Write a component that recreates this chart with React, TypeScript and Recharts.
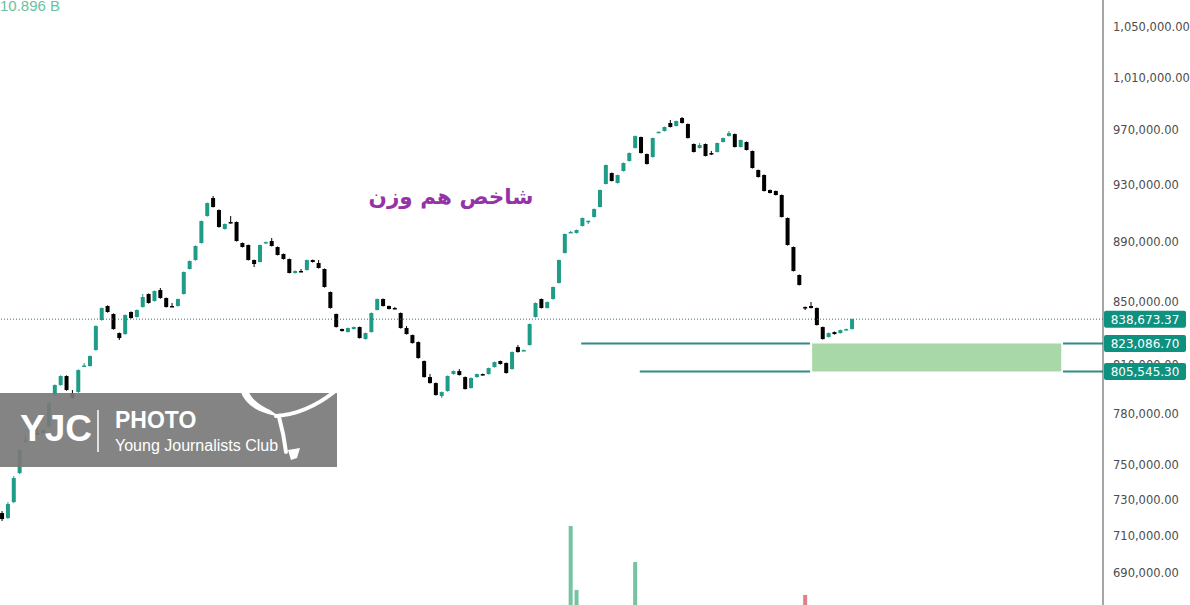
import React from 'react';
import {
  ComposedChart,
  Bar,
  Cell,
  XAxis,
  YAxis,
  ReferenceLine,
  ReferenceArea,
} from 'recharts';

// daily candles: [open, high, low, close]
const CANDLES: [number, number, number, number][] = [
  [722490, 723600, 718050, 719150],
  [719700, 728600, 719150, 727500],
  [728600, 743350, 728000, 742200],
  [745050, 758900, 744500, 758360],
  [763050, 767160, 762500, 764220],
  [764220, 766500, 763700, 766000],
  [768350, 771900, 767500, 767800],
  [768350, 770500, 768000, 770120],
  [771900, 786800, 771500, 786250],
  [791130, 797600, 790700, 797230],
  [797230, 803200, 796800, 802770],
  [802770, 803200, 793800, 794170],
  [792330, 794170, 789000, 789300],
  [792940, 806900, 792500, 806480],
  [808970, 810850, 808500, 809300],
  [808970, 815600, 808600, 815220],
  [818990, 834700, 818600, 834250],
  [838120, 846300, 837700, 845890],
  [847200, 847600, 842900, 843300],
  [842000, 842400, 831900, 832320],
  [829760, 830100, 825310, 826580],
  [829120, 841800, 828700, 841350],
  [843300, 843700, 839000, 839410],
  [840060, 845000, 839700, 844590],
  [846540, 855060, 846200, 853080],
  [855060, 855400, 848800, 849150],
  [850460, 857400, 850100, 857030],
  [857690, 859020, 852000, 852420],
  [852420, 852800, 846200, 846540],
  [847200, 849150, 846600, 846900],
  [847200, 852100, 846800, 851770],
  [855060, 870000, 854700, 869650],
  [871660, 877400, 871300, 877040],
  [877710, 887600, 877300, 887220],
  [889250, 904800, 888900, 904430],
  [907920, 917400, 907500, 917030],
  [920570, 921990, 913900, 914230],
  [912120, 912500, 899900, 900270],
  [898890, 902700, 898500, 902360],
  [903740, 907920, 902700, 903050],
  [903740, 904100, 890300, 890620],
  [889250, 889600, 886200, 886530],
  [887900, 888200, 877400, 877710],
  [877710, 878000, 873000, 875020],
  [876360, 888200, 876000, 887900],
  [889250, 890300, 888900, 889930],
  [890620, 892680, 886900, 887220],
  [886530, 886900, 880800, 881100],
  [881780, 882100, 878000, 878380],
  [878380, 878700, 868700, 868990],
  [868990, 870700, 868600, 870320],
  [870320, 871660, 869700, 870000],
  [870990, 878000, 870600, 877710],
  [877710, 878000, 876000, 876360],
  [875690, 877710, 872000, 872330],
  [871660, 872000, 859300, 859680],
  [856370, 856700, 845500, 845890],
  [842000, 842300, 833300, 833610],
  [832320, 832600, 830700, 831040],
  [830400, 833300, 830100, 832970],
  [832320, 833900, 832000, 833610],
  [833610, 833900, 826300, 826580],
  [825950, 830100, 825600, 829760],
  [830400, 843000, 830100, 842650],
  [844590, 852100, 844300, 851770],
  [851770, 852100, 846900, 847200],
  [847200, 847500, 845000, 845240],
  [845890, 846540, 845240, 845600],
  [842650, 843000, 832600, 832970],
  [832970, 834250, 828800, 829120],
  [828480, 828800, 823100, 823410],
  [824040, 824400, 813600, 813960],
  [812090, 812400, 801800, 802150],
  [802150, 804010, 798100, 798460],
  [798460, 798800, 790800, 791130],
  [790520, 793300, 789300, 792940],
  [793560, 803100, 793200, 802770],
  [804010, 806200, 803700, 805860],
  [805860, 807100, 803100, 803390],
  [802150, 802500, 794500, 794780],
  [795400, 801900, 795100, 801540],
  [802150, 804300, 801800, 804010],
  [804010, 804300, 803100, 803390],
  [804010, 808000, 803700, 807720],
  [808350, 811800, 808000, 811460],
  [812090, 812400, 809900, 810220],
  [810850, 811200, 804300, 804630],
  [807100, 818100, 806800, 817730],
  [820880, 822140, 817400, 817730],
  [818670, 819300, 818300, 818990],
  [822140, 835900, 821800, 835540],
  [840060, 849500, 839700, 849150],
  [851770, 852100, 845600, 845890],
  [845890, 850100, 845600, 849800],
  [851770, 860000, 851400, 859680],
  [862330, 878000, 862000, 877710],
  [882460, 895800, 882100, 895450],
  [896600, 897500, 896130, 896900],
  [896130, 898500, 895800, 898200],
  [900970, 906900, 900600, 906530],
  [904430, 904700, 902360, 904600],
  [907220, 913200, 906900, 912820],
  [914230, 926600, 913900, 926270],
  [930560, 944600, 930200, 944250],
  [938440, 938800, 932400, 932700],
  [931270, 937300, 930900, 936990],
  [939890, 946100, 939500, 945710],
  [947160, 953400, 946800, 953000],
  [956680, 965900, 956300, 965520],
  [964780, 965100, 952600, 953000],
  [952270, 952600, 944600, 944980],
  [950080, 964400, 949700, 964050],
  [968530, 969000, 968200, 968700],
  [969280, 972600, 968900, 972260],
  [975250, 977500, 971900, 972260],
  [973010, 977100, 972700, 976750],
  [979010, 979770, 974900, 975260],
  [974510, 974900, 963700, 964050],
  [959640, 960000, 953400, 953750],
  [956680, 960370, 956300, 958900],
  [959640, 960000, 950500, 950810],
  [953000, 954500, 951500, 952800],
  [953750, 960700, 953400, 960370],
  [961110, 964400, 960800, 964050],
  [965520, 969280, 965200, 967740],
  [967000, 967400, 957100, 957420],
  [957420, 962900, 957100, 962590],
  [961110, 961500, 954900, 955210],
  [954480, 954800, 941700, 942070],
  [940620, 941000, 935200, 935580],
  [937020, 937400, 925200, 925560],
  [926270, 926600, 923800, 924140],
  [925560, 925900, 922400, 922720],
  [922720, 923100, 906900, 907220],
  [906530, 906900, 887500, 887900],
  [886530, 886900, 870000, 870320],
  [867650, 868000, 860700, 861000],
  [846540, 846900, 844590, 846300],
  [847200, 849800, 845600, 845890],
  [845890, 846200, 834600, 834900],
  [833610, 833900, 825600, 825950],
  [827220, 830100, 826900, 829760],
  [830400, 830700, 828800, 829120],
  [829760, 832000, 829400, 831680],
  [831680, 832600, 831400, 832320],
  [832320, 839000, 832000, 838673.37],
];

// volume (billions) - only the bars that rise into view, [candle index, volume]
const VOLUME: [number, number][] = [
  [97, 300],
  [98, 96],
  [108, 185],
  [137, 80],
  [145, 10.896],
];

const PRICE_TICKS = [690000, 710000, 730000, 750000, 780000, 810000, 850000, 890000, 930000, 970000, 1010000, 1050000];
const LAST_PRICE = 838673.37;
const ZONE_TOP = 823086.7;
const ZONE_BOTTOM = 805545.3;
const BADGE_LEVELS = [LAST_PRICE, ZONE_TOP, ZONE_BOTTOM];

// x ranges (in candle index units) of the drawn levels / zone
const TOP_LINE_FROM = 98.8;
const LOW_LINE_FROM = 108.8;
const ZONE_FROM = 138.2;
const ZONE_TO = 180.7;
const LINE_GAP_L = 137.85;
const LINE_GAP_R = 181.0;

const X_MIN = -0.34;
const X_MAX = 187.82;
const PRICE_DOMAIN = [673150, 1072040];
const VOL_DOMAIN = [47.9, 1978.7];

const UP = '#1f9c88';
const DOWN = '#000000';
const LEVEL = '#2f8c86';
const BADGE = '#0f9180';
const AXIS_FONT = "'DejaVu Sans', Verdana, sans-serif";

const fmt = (v: number) =>
  v.toLocaleString('en-US', { minimumFractionDigits: 2, maximumFractionDigits: 2 });

const volMap = new Map(VOLUME);
const data = CANDLES.map(([open, high, low, close], i) => ({
  i,
  open,
  high,
  low,
  close,
  vol: volMap.get(i),
}));

const Candle = (props: any) => {
  const { x, y, width, height, payload } = props;
  if (x == null || y == null) return null;
  const top = height >= 0 ? y : y + height;
  const h = Math.abs(height);
  const { open, high, low, close } = payload;
  const lh = Math.log(high);
  const span = lh - Math.log(low) || 1;
  const py = (p: number) => top + ((lh - Math.log(p)) / span) * h;
  const color = close >= open ? UP : DOWN;
  const bTop = py(Math.max(open, close));
  const bBot = py(Math.min(open, close));
  const cx = x + width / 2;
  return (
    <g>
      <line x1={cx} x2={cx} y1={top} y2={top + h} stroke={color} strokeWidth={1} />
      <rect x={x} y={bTop} width={width} height={Math.max(1.5, bBot - bTop)} fill={color} />
    </g>
  );
};

const PriceTick = (props: any) => {
  const { x, y, payload } = props;
  return (
    <text x={x} y={y} dy={4.2} fill="#4d4d4d" fontSize={11.5} fontFamily={AXIS_FONT} textAnchor="start">
      {fmt(payload.value)}
    </text>
  );
};

const badge = (value: number) => (props: any) => {
  const vb = props.viewBox || {};
  const bx = vb.x + vb.width + 1;
  const by = vb.y;
  return (
    <g>
      <rect x={bx} y={by - 8.5} width={82} height={17} rx={2} fill={BADGE} />
      <text x={bx + 41} y={by + 4.5} fill="#ffffff" fontSize={12} textAnchor="middle" fontFamily={AXIS_FONT}>
        {fmt(value)}
      </text>
    </g>
  );
};

export default function App() {
  const xAxis = <XAxis type="number" dataKey="i" domain={[X_MIN, X_MAX]} hide allowDataOverflow />;
  return (
    <div style={{ position: 'absolute', left: 0, top: 0, width: 1190, height: 605, overflow: 'hidden', background: '#ffffff' }}>
      <ComposedChart width={1190} height={605} data={data} margin={{ top: 0, right: 0, bottom: 0, left: 0 }}>
        {xAxis}
        <XAxis xAxisId="v" type="number" dataKey="i" domain={[X_MIN, X_MAX]} hide allowDataOverflow />
        <YAxis
          orientation="right"
          width={87}
          scale="log"
          type="number"
          domain={PRICE_DOMAIN}
          allowDataOverflow
          ticks={PRICE_TICKS}
          tick={<PriceTick />}
          tickLine={false}
          tickSize={0}
          tickMargin={10}
          axisLine={{ stroke: '#4d4d4d' }}
          interval={0}
        />
        <YAxis yAxisId="vol" hide type="number" domain={VOL_DOMAIN} allowDataOverflow />
        <ReferenceArea x1={ZONE_FROM} x2={ZONE_TO} y1={ZONE_BOTTOM} y2={ZONE_TOP} fill="#a8d8a8" fillOpacity={1} stroke="none" ifOverflow="visible" />
        <ReferenceLine segment={[{ x: TOP_LINE_FROM, y: ZONE_TOP }, { x: LINE_GAP_L, y: ZONE_TOP }]} stroke={LEVEL} strokeWidth={2} />
        <ReferenceLine segment={[{ x: LINE_GAP_R, y: ZONE_TOP }, { x: X_MAX, y: ZONE_TOP }]} stroke={LEVEL} strokeWidth={2} />
        <ReferenceLine segment={[{ x: LOW_LINE_FROM, y: ZONE_BOTTOM }, { x: LINE_GAP_L, y: ZONE_BOTTOM }]} stroke={LEVEL} strokeWidth={2} />
        <ReferenceLine segment={[{ x: LINE_GAP_R, y: ZONE_BOTTOM }, { x: X_MAX, y: ZONE_BOTTOM }]} stroke={LEVEL} strokeWidth={2} />
        <ReferenceLine y={LAST_PRICE} stroke="#3d6e6b" strokeDasharray="1 2" strokeWidth={1} />
        <Bar xAxisId="v" yAxisId="vol" dataKey="vol" barSize={4} isAnimationActive={false}>
          {data.map((d) => (
            <Cell key={d.i} fill={d.close >= d.open ? '#74c4a2' : '#e07f85'} />
          ))}
        </Bar>
        <Bar dataKey={(d: any) => [d.low, d.high]} barSize={4} shape={<Candle />} isAnimationActive={false} />
      </ComposedChart>

      {/* price badges sit above the axis labels, so they get their own layer on the same scales */}
      <div style={{ position: 'absolute', left: 0, top: 0, pointerEvents: 'none' }}>
        <ComposedChart width={1190} height={605} data={data} margin={{ top: 0, right: 0, bottom: 0, left: 0 }}>
          {xAxis}
          <YAxis
            orientation="right"
            width={87}
            scale="log"
            type="number"
            domain={PRICE_DOMAIN}
            allowDataOverflow
            tick={false}
            tickLine={false}
            axisLine={false}
          />
          {BADGE_LEVELS.map((v) => (
            <ReferenceLine key={v} y={v} stroke="none" label={badge(v)} />
          ))}
        </ComposedChart>
      </div>

      <svg width={1190} height={605} style={{ position: 'absolute', left: 0, top: 0, pointerEvents: 'none' }}>
        <text x={0} y={11} fill="#6cbf9f" fontSize={15} fontFamily="'Liberation Sans', Arial, sans-serif">10.896 B</text>
        <text x={451} y={204} fill="#9433a6" fontSize={21.5} fontWeight="bold" textAnchor="middle" fontFamily="'DejaVu Sans', sans-serif" direction="rtl">
          شاخص هم وزن
        </text>
        <g>
          <rect x={0} y={393} width={337} height={74} fill="#7a7a7a" fillOpacity={0.92} />
          <text x={20} y={441} fill="#ffffff" fontSize={37} fontWeight="bold" fontFamily="'Liberation Sans', Arial, sans-serif">YJC</text>
          <line x1={98} x2={98} y1={410} y2={452} stroke="#ffffff" strokeWidth={1.5} />
          <text x={115} y={428} fill="#ffffff" fontSize={23} fontWeight="bold" fontFamily="'Liberation Sans', Arial, sans-serif">PHOTO</text>
          <text x={115} y={451} fill="#ffffff" fontSize={16} fontFamily="'Liberation Sans', Arial, sans-serif">Young Journalists Club</text>
          <path d="M 240 390 Q 246 408 268 414 L 280 417 L 270 410 Q 252 402 248 390 Z" fill="#ffffff" />
          <path d="M 276 416 Q 306 414 334 392" fill="none" stroke="#ffffff" strokeWidth={4} strokeLinecap="round" />
          <path d="M 279 417 Q 284 435 286 452" fill="none" stroke="#ffffff" strokeWidth={4} strokeLinecap="round" />
          <path d="M 288 450 L 300 448 L 297 458 L 291 460 Z" fill="#ffffff" />
        </g>
      </svg>
    </div>
  );
}
